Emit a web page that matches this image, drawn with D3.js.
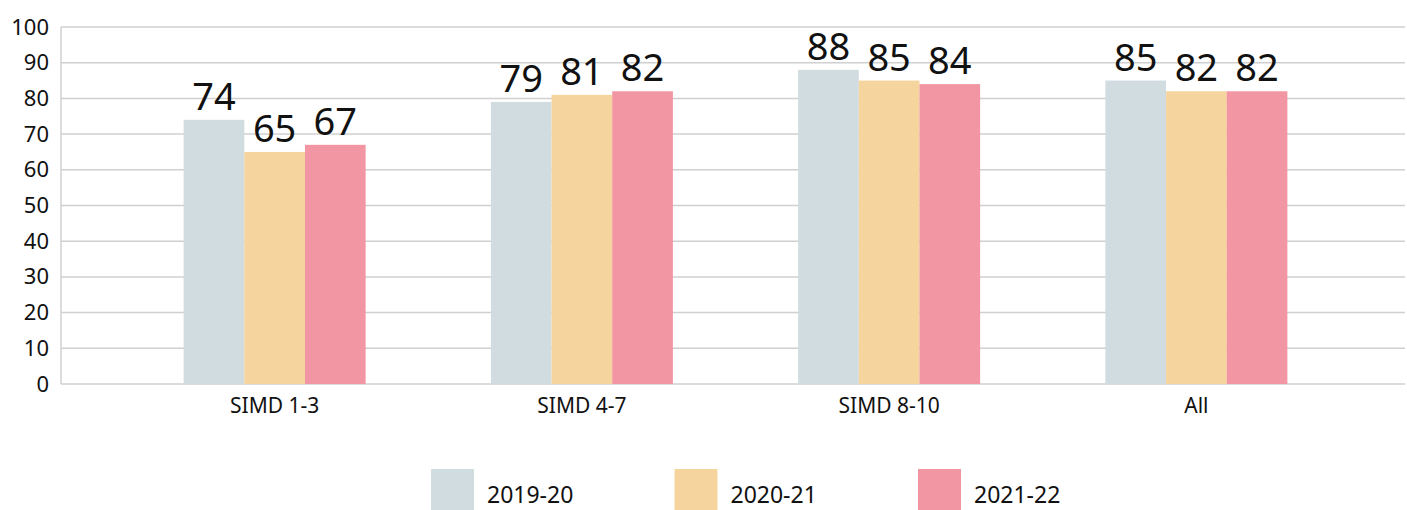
<!DOCTYPE html>
<html>
<head>
    <meta charset="utf-8">
    <title>SIMD chart</title>
    <script src="https://d3js.org/d3.v7.min.js"></script>
    <style type="text/css">
        body { margin: 0; background: #fff; }
        text { font-family: "Noto Sans", sans-serif; fill: #111; }
    </style>
</head>
<body>
    <script type="text/javascript">
        // data
        let categories = ["SIMD 1-3", "SIMD 4-7", "SIMD 8-10", "All"];
        let years = ["2019-20", "2020-21", "2021-22"];
        let v2019 = [74, 79, 88, 85];
        let v2020 = [65, 81, 85, 82];
        let v2021 = [67, 82, 84, 82];
        let yTicks = [0, 10, 20, 30, 40, 50, 60, 70, 80, 90, 100];
        let colors = ["#d1dce1", "#f5d49d", "#f196a2"];

        let seriesVals = [v2019, v2020, v2021];

        let width = 1407, height = 510;
        let plotLeft = 61, plotRight = 1405, plotTop = 27, plotBottom = 384;

        let svg = d3.select("body").append("svg")
            .attr("width", width)
            .attr("height", height);

        let y = d3.scaleLinear().domain([0, 100]).range([plotBottom, plotTop]);
        let x0 = d3.scaleBand().domain(categories).range([121, 1350]);
        let x1 = d3.scaleBand().domain(years).range([0, 182]);
        let color = d3.scaleOrdinal().domain(years).range(colors);

        // gridlines
        svg.append("g")
            .selectAll("line")
            .data(yTicks)
            .join("line")
                .attr("x1", plotLeft)
                .attr("x2", plotRight)
                .attr("y1", d => y(d))
                .attr("y2", d => y(d))
                .attr("stroke", "#d0d0d0")
                .attr("stroke-width", 1.5);

        svg.append("line")
            .attr("x1", plotLeft).attr("x2", plotLeft)
            .attr("y1", plotTop).attr("y2", plotBottom)
            .attr("stroke", "#d0d0d0")
            .attr("stroke-width", 1.5);

        // y axis labels
        let yAxis = svg.append("g")
            .attr("transform", `translate(${plotLeft},0)`)
            .call(d3.axisLeft(y).tickValues(yTicks).tickSize(0).tickPadding(12));
        yAxis.select(".domain").remove();
        yAxis.selectAll("text")
            .style("font-family", "Noto Sans")
            .style("font-size", "22px")
            .attr("fill", "#111");

        // x axis labels
        let xAxis = svg.append("g")
            .attr("transform", `translate(0,${plotBottom})`)
            .call(d3.axisBottom(x0).tickSize(0).tickPadding(14));
        xAxis.select(".domain").remove();
        xAxis.selectAll("text")
            .style("font-family", "Noto Sans")
            .style("font-size", "21px")
            .attr("fill", "#111");

        // bars
        let rows = categories.map((c, i) => ({
            cat: c,
            vals: years.map((yr, j) => ({ year: yr, value: seriesVals[j][i] }))
        }));

        let groups = svg.append("g")
            .selectAll("g")
            .data(rows)
            .join("g")
                .attr("transform", d => `translate(${x0(d.cat) + x0.bandwidth() / 2 - 91},0)`);

        groups.selectAll("rect")
            .data(d => d.vals)
            .join("rect")
                .attr("x", d => x1(d.year))
                .attr("width", x1.bandwidth())
                .attr("y", d => y(d.value))
                .attr("height", d => plotBottom - y(d.value))
                .attr("fill", d => color(d.year));

        groups.selectAll("text")
            .data(d => d.vals)
            .join("text")
                .attr("x", d => x1(d.year) + x1.bandwidth() / 2)
                .attr("y", d => y(d.value) - 10)
                .attr("text-anchor", "middle")
                .style("font-size", "38px")
                .text(d => d.value);

        // legend
        let legend = svg.append("g")
            .selectAll("g")
            .data(years)
            .join("g")
                .attr("transform", (d, i) => `translate(${431 + i * 243.5},469)`);

        legend.append("rect")
            .attr("width", 43)
            .attr("height", 43)
            .attr("fill", d => color(d));

        legend.append("text")
            .attr("x", 56)
            .attr("y", 34)
            .style("font-size", "23px")
            .text(d => d);
    </script>
</body>
</html>
